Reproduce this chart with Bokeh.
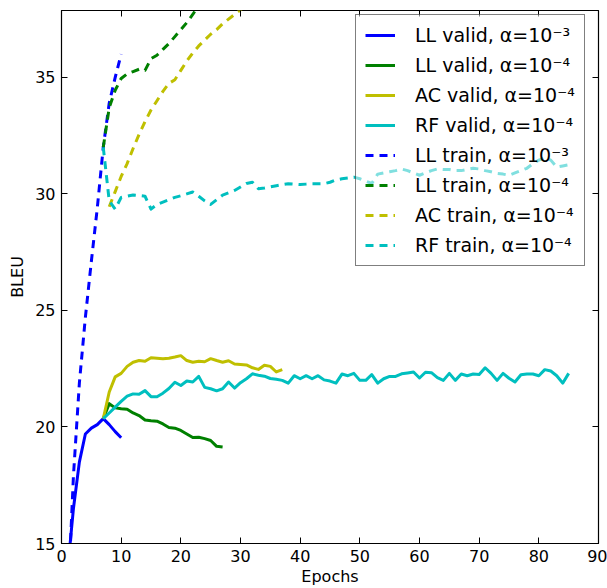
from bokeh.plotting import figure
from bokeh.models import Range1d, FixedTicker, LinearAxis, Legend, LegendItem
from bokeh.embed import file_html
from bokeh.resources import INLINE

# ---- data ----
ll3_epochs = list(range(1, 11))
ll3_valid = [13.8, 16.5, 18.5, 19.7, 19.95, 20.1, 20.36, 20.1, 19.8, 19.54]
ll3_train = [12.1, 17.9, 21.9, 24.7, 27.1, 29.4, 32.0, 33.9, 35.0, 36.0]

ll4_valid_epochs = list(range(7, 28))
ll4_valid = [20.36, 21.0, 20.82, 20.78, 20.76, 20.6, 20.49, 20.3, 20.27, 20.25,
             20.13, 19.98, 19.95, 19.85, 19.7, 19.55, 19.56, 19.5, 19.42, 19.17, 19.14]
ll4_train_epochs = list(range(7, 24))
ll4_train = [32.0, 33.7, 34.45, 34.95, 35.15, 35.25, 35.35, 35.3, 35.8, 35.95,
             36.2, 36.45, 36.75, 37.05, 37.35, 37.7, 38.1]

ac_valid_epochs = list(range(7, 38))
ac_valid = [20.36, 21.5, 22.15, 22.3, 22.6, 22.78, 22.85, 22.82, 22.97, 22.95,
            22.93, 22.95, 23.0, 23.06, 22.85, 22.78, 22.82, 22.8, 22.93, 22.85,
            22.78, 22.84, 22.7, 22.68, 22.66, 22.54, 22.47, 22.65, 22.6, 22.36, 22.46]
ac_train_epochs = list(range(8, 32))
ac_train = [29.45, 30.1, 30.75, 31.3, 31.95, 32.55, 33.1, 33.6, 34.0, 34.4,
            34.74, 34.9, 35.3, 35.7, 36.05, 36.35, 36.6, 36.85, 37.05, 37.3,
            37.5, 37.7, 37.9, 38.1]

rf_epochs = list(range(7, 86))
rf_valid = [20.36, 20.6, 20.85, 21.1, 21.32, 21.42, 21.4, 21.56, 21.3, 21.3,
            21.45, 21.65, 21.92, 21.78, 21.97, 21.93, 22.17, 21.7, 21.64, 21.55,
            21.64, 21.93, 21.67, 21.9, 22.07, 22.28, 22.22, 22.18, 22.08, 22.05,
            22.0, 21.88, 22.2, 22.07, 22.2, 22.07, 22.2, 22.02, 21.97, 21.88,
            22.27, 22.2, 22.3, 22.0, 22.0, 22.25, 21.88, 22.07, 22.17, 22.17,
            22.28, 22.32, 22.36, 22.1, 22.35, 22.33, 22.12, 22.0, 22.3, 22.0,
            22.27, 22.2, 22.27, 22.25, 22.54, 22.3, 22.0, 22.3, 22.09, 21.93,
            22.24, 22.27, 22.27, 22.2, 22.46, 22.4, 22.2, 21.88, 22.3]
rf_train = [32.0, 29.7, 29.35, 29.85, 29.9, 29.95, 29.93, 29.9, 29.35, 29.55,
            29.65, 29.75, 29.85, 29.92, 30.0, 30.08, 29.9, 29.7, 29.55, 29.75,
            29.95, 30.05, 30.15, 30.3, 30.45, 30.5, 30.22, 30.25, 30.3, 30.35,
            30.4, 30.44, 30.42, 30.4, 30.42, 30.44, 30.44, 30.44, 30.5, 30.6,
            30.65, 30.68, 30.72, 30.65, 30.55, 30.45, 30.85, 30.9, 30.95, 31.0,
            31.07, 31.0, 30.9, 30.8, 30.9, 31.0, 31.07, 31.05, 31.05, 31.0,
            31.0, 31.05, 31.1, 31.07, 31.0, 30.95, 30.88, 30.85, 30.8, 30.9,
            31.0, 31.1, 31.3, 31.45, 31.55, 31.45, 31.15, 31.2, 31.25]

x_ticks = [0, 10, 20, 30, 40, 50, 60, 70, 80, 90]
y_ticks = [15, 20, 25, 30, 35]

labels = ["LL valid, α=10⁻³", "LL valid, α=10⁻⁴", "AC valid, α=10⁻⁴", "RF valid, α=10⁻⁴",
          "LL train, α=10⁻³", "LL train, α=10⁻⁴", "AC train, α=10⁻⁴", "RF train, α=10⁻⁴"]

BLUE, GREEN, YELLOW, CYAN = "#0000ff", "#008000", "#bfbf00", "#00bfbf"
FONT = "DejaVu Sans"

p = figure(width=607, height=588, output_backend="svg", toolbar_location=None,
           x_range=Range1d(0, 90), y_range=Range1d(15, 37.87),
           frame_width=537, frame_height=533,
           min_border_left=61, min_border_right=9, min_border_top=10, min_border_bottom=45)
p.grid.visible = False
p.outline_line_color = "black"
p.outline_line_width = 1.2
p.background_fill_color = "white"

series = [
    (ll3_epochs, ll3_valid, BLUE, "solid"),
    (ll4_valid_epochs, ll4_valid, GREEN, "solid"),
    (ac_valid_epochs, ac_valid, YELLOW, "solid"),
    (rf_epochs, rf_valid, CYAN, "solid"),
    (ll3_epochs, ll3_train, BLUE, "8 6"),
    (ll4_train_epochs, ll4_train, GREEN, "8 6"),
    (ac_train_epochs, ac_train, YELLOW, "8 6"),
    (rf_epochs, rf_train, CYAN, "8 6"),
]
items = []
for (xs, ys, col, dash), lab in zip(series, labels):
    r = p.line(xs, ys, line_color=col, line_width=3, line_dash=dash, line_join="round")
    items.append(LegendItem(label=lab, renderers=[r]))

for ax in (p.xaxis[0], p.yaxis[0]):
    ax.major_tick_in = 6
    ax.major_tick_out = 0
    ax.minor_tick_in = 0
    ax.minor_tick_out = 0
    ax.axis_line_color = "black"
    ax.major_tick_line_color = "black"
    ax.major_label_text_font = FONT
    ax.major_label_text_font_size = "16px"
    ax.major_label_text_color = "black"
    ax.axis_label_text_font = FONT
    ax.axis_label_text_font_size = "16px"
    ax.axis_label_text_font_style = "normal"
    ax.axis_label_text_color = "black"
    ax.major_label_standoff = 6
p.xaxis[0].ticker = FixedTicker(ticks=x_ticks)
p.yaxis[0].ticker = FixedTicker(ticks=y_ticks)
p.xaxis[0].axis_label = "Epochs"
p.yaxis[0].axis_label = "BLEU"
p.xaxis[0].axis_label_standoff = 2
p.yaxis[0].axis_label_standoff = 5

top = LinearAxis(ticker=FixedTicker(ticks=x_ticks))
right = LinearAxis(ticker=FixedTicker(ticks=y_ticks))
for ax in (top, right):
    ax.major_tick_in = 6
    ax.major_tick_out = 0
    ax.minor_tick_in = 0
    ax.minor_tick_out = 0
    ax.axis_line_color = None
    ax.major_label_text_font_size = "0px"
    ax.major_label_text_color = None
    ax.major_label_standoff = 0
    ax.major_tick_line_color = "black"
p.add_layout(top, "above")
p.add_layout(right, "right")

legend = Legend(items=items, location=(294, 277),
                label_text_font=FONT, label_text_font_size="19px", label_text_color="black",
                glyph_width=30, glyph_height=22, label_height=22, label_standoff=20,
                spacing=8, padding=9,
                background_fill_color="white", background_fill_alpha=0.5,
                border_line_color="black", border_line_alpha=0.5, border_line_width=1.5)
p.add_layout(legend)

open("out.html", "w").write(file_html(p, INLINE))
